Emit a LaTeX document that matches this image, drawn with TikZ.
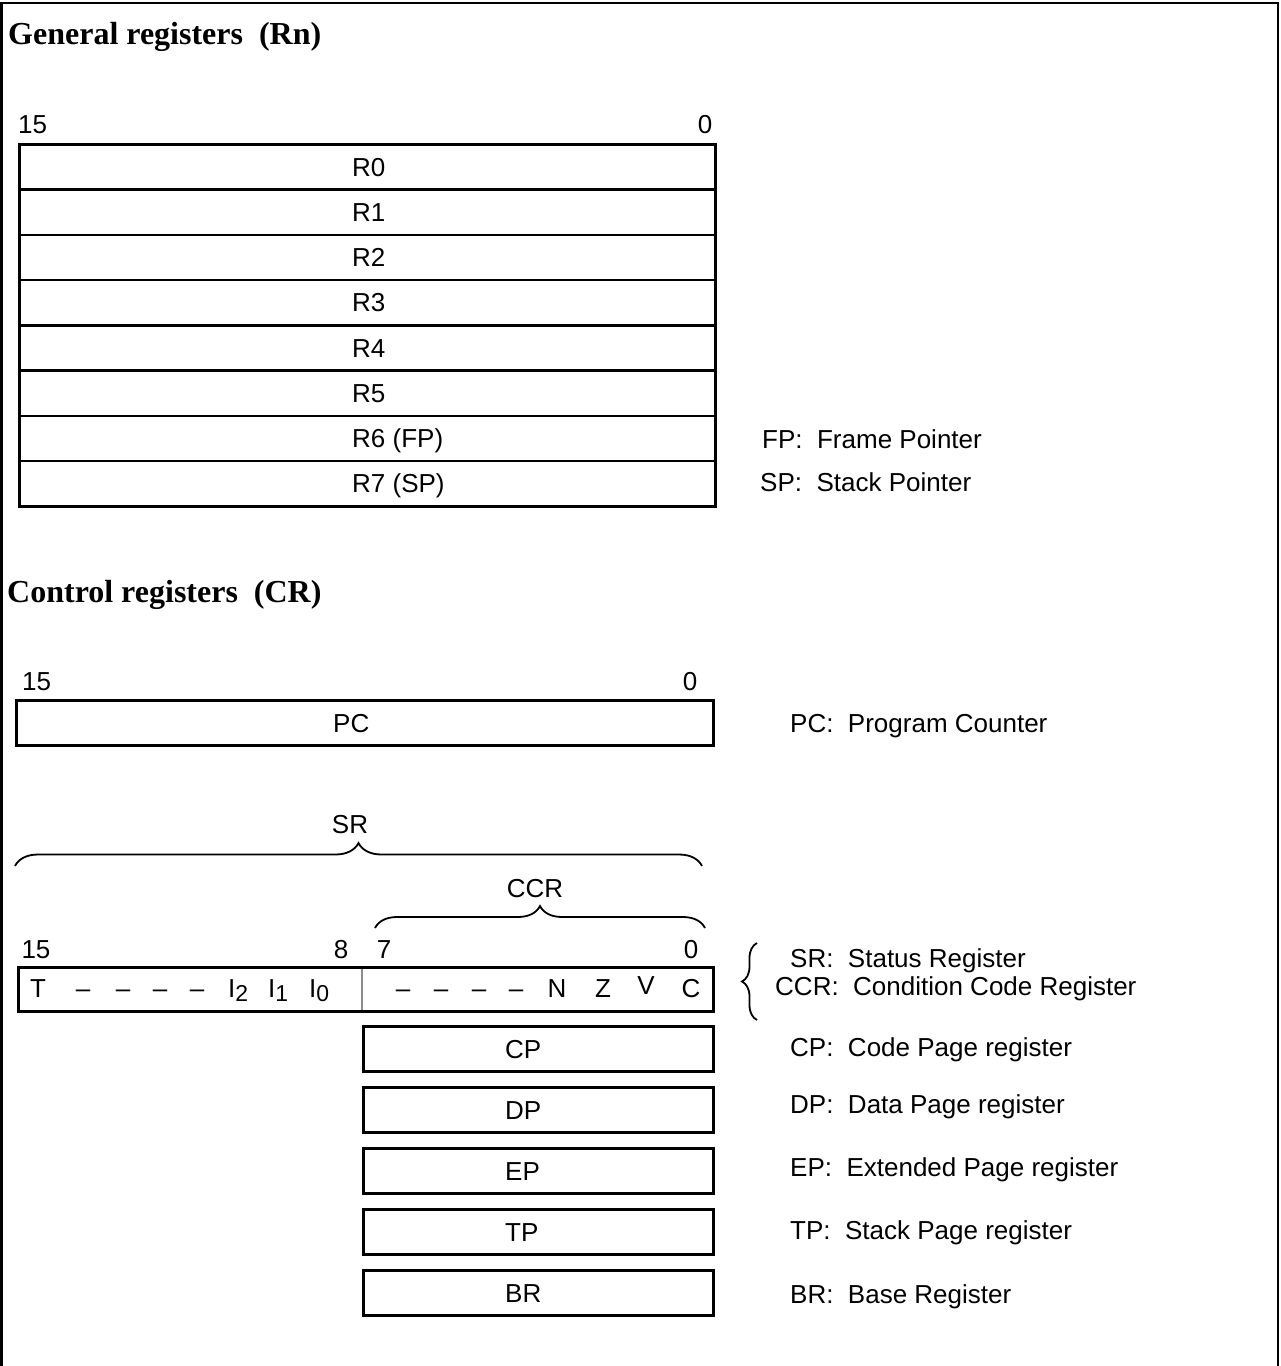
\documentclass[tikz,border=0pt]{standalone}
\usepackage{fontspec}
\setmainfont{Liberation Sans}
\newfontfamily\headfont{Liberation Serif}
\usetikzlibrary{positioning,decorations.pathreplacing}
\newcommand{\sub}[1]{\raisebox{-4pt}{\fontsize{23}{25}\selectfont #1}}
\tikzset{
  regbox/.style={rectangle, draw=black, line width=2.6pt, inner sep=0pt,
                 minimum height=45.25pt, anchor=north west},
  bits/.style={font=\fontsize{26}{30}\selectfont, inner sep=0pt, text height=18.5pt, text depth=0pt},
  regname/.style={bits, anchor=west},
  note/.style={bits, anchor=west},
  head/.style={font=\headfont\bfseries\fontsize{32}{36}\selectfont, inner sep=0pt,
               text height=21pt, text depth=0pt, anchor=west},
  brc/.style={decorate, decoration={brace, amplitude=#1}, line width=1.8pt},
  frame/.style={line width=2.5pt},
  divider/.style={draw=black!45, line width=2pt}
}

\begin{document}
\begin{tikzpicture}[x=1pt, y=-1pt, node distance=13.5pt]
  \useasboundingbox (0,0) rectangle (1281,1366);
  \draw[frame] (1.5,1366) -- (1.5,3) -- (1278,3) -- (1278,1366);

  % general registers
  \node[head] (genhead) at (8,33.5) {General registers~~(Rn)};
  \node[bits, anchor=west] (genmsb) at (18,124) {15};
  \node[bits] (genlsb) at (705,124) {0};
  \foreach \i/\t in {0/R0, 1/R1, 2/R2, 3/R3, 4/R4, 5/R5, 6/R6 (FP), 7/R7 (SP)} {
    \node[regbox, minimum width=696pt] (r\i) at (18,143+\i*45.25) {};
    \node[regname] (rn\i) at ([xshift=334pt]r\i.west) {\t};
  }
  \node[note] (fpnote) at (762,439) {FP:~~Frame Pointer};
  \node[note] (spnote) at (760,482) {SP:~~Stack Pointer};

  % control registers
  \node[head] (ctlhead) at (7,591.5) {Control registers~~(CR)};
  \node[bits, anchor=west] (pcmsb) at (22,681) {15};
  \node[bits] (pclsb) at (690,681) {0};
  \node[regbox, minimum width=697pt, minimum height=45pt] (pc) at (15,699) {};
  \node[regname] (pcname) at ([xshift=318pt]pc.west) {PC};
  \node[note] (pcnote) at (790,723) {PC:~~Program Counter};

  % status register
  \node[bits] (srlbl) at (350,824) {SR};
  \draw[brc=23pt] (15,866) -- (702,866);
  \node[bits] (ccrlbl) at (535,888) {CCR};
  \draw[brc=22pt] (375,928) -- (705,928);
  \node[bits] (srmsb) at (36,949) {15};
  \node[bits] (sr8) at (341,949) {8};
  \node[bits] (sr7) at (384,949) {7};
  \node[bits] (srlsb) at (691,949) {0};
  \draw[divider] (362,966) -- (362,1010);
  \node[regbox, minimum width=695pt, minimum height=44pt] (sr) at (17,966) {};
  \foreach \x/\t in {38/T, 83/\textendash, 123/\textendash, 160/\textendash, 197/\textendash,
                     403/\textendash, 441/\textendash, 479/\textendash, 516/\textendash,
                     557/N, 603/Z, 691/C}
    \node[bits] at (\x,988) {\t};
  \node[bits] (vflag) at (646,985) {V};
  \foreach \x/\n in {228/2, 268/1, 309/0}
    \node[bits, anchor=west] at (\x,988) {I\sub{\n}};
  \draw[brc=15pt] (757,1020) -- (757,943);
  \node[note] (srnote) at (790,958) {SR:~~Status Register};
  \node[note] (ccrnote) at (775,986) {CCR:~~Condition Code Register};

  % page and base registers
  \node[regbox, minimum width=350pt, minimum height=45pt] (cp) at (362,1025) {};
  \node[regbox, minimum width=350pt, minimum height=45pt, below=of cp] (dp) {};
  \node[regbox, minimum width=350pt, minimum height=45pt, below=of dp] (ep) {};
  \node[regbox, minimum width=350pt, minimum height=45pt, below=of ep] (tp) {};
  \node[regbox, minimum width=350pt, minimum height=45pt, below=of tp] (br) {};
  \foreach \r/\t in {cp/CP, dp/DP, ep/EP, tp/TP, br/BR}
    \node[regname] at ([xshift=143pt]\r.west) {\t};
  \node[note] (cpnote) at (790,1047) {CP:~~Code Page register};
  \node[note] (dpnote) at (790,1104) {DP:~~Data Page register};
  \node[note] (epnote) at (790,1167) {EP:~~Extended Page register};
  \node[note] (tpnote) at (790,1230) {TP:~~Stack Page register};
  \node[note] (brnote) at (790,1294) {BR:~~Base Register};
\end{tikzpicture}
\end{document}
